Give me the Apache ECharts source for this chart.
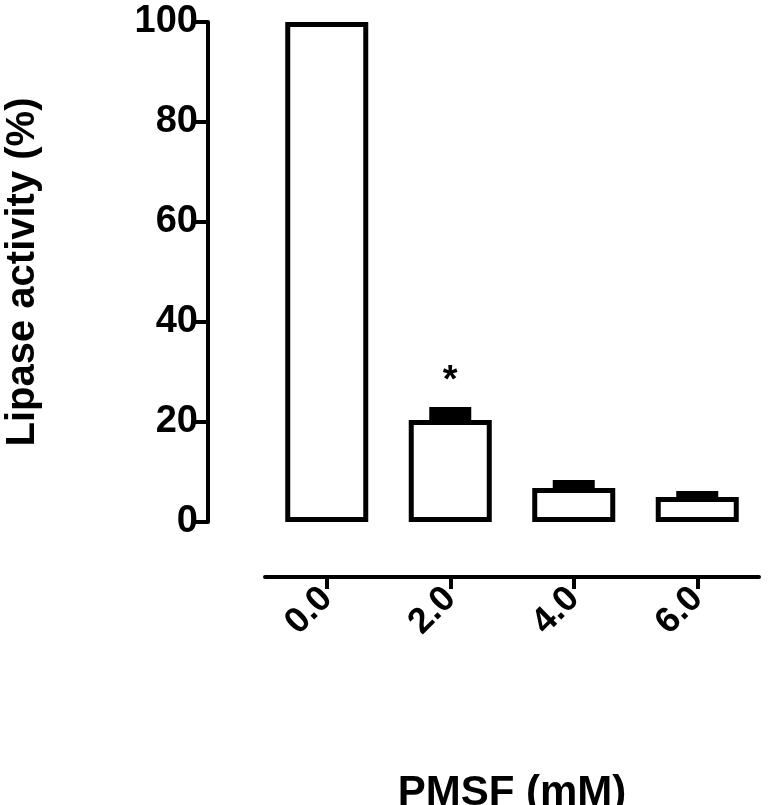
<!DOCTYPE html>
<html><head><meta charset="utf-8">
<script src="https://cdn.jsdelivr.net/npm/echarts@6/dist/echarts.min.js"></script>
<style>html,body{margin:0;padding:0;background:#fff}#c{width:771px;height:805px}</style>
</head><body><div id="c"></div>
<script>
const categories = ['0.0', '2.0', '4.0', '6.0'];
const values = [100, 20.4, 6.8, 5.0];
const errors = [0, 2.6, 1.6, 1.2];
const marks = ['', '*', '', ''];
const yTicks = [0, 20, 40, 60, 80, 100];

const F = 'Liberation Sans, Arial, sans-serif';
const chart = echarts.init(document.getElementById('c'));
chart.setOption({
  animation: false,
  grid: {left: 265, right: 12, top: 22, bottom: 283, containLabel: false, outerBoundsMode: 'none'},
  xAxis: {
    type: 'category', data: categories, offset: 55,
    axisLine: {onZero: false, lineStyle: {color: '#000', width: 4}},
    axisTick: {show: true, alignWithLabel: true, length: 12, lineStyle: {color: '#000', width: 4}},
    axisLabel: {rotate: 45, color: '#000', fontFamily: F, fontWeight: 'bold', fontSize: 36, margin: 16},
    name: 'PMSF (mM)', nameLocation: 'middle', nameGap: 195,
    nameTextStyle: {color: '#000', fontFamily: F, fontWeight: 'bold', fontSize: 42}
  },
  yAxis: {
    type: 'value', min: 0, max: 100, interval: 20, offset: 57,
    axisLine: {show: true, lineStyle: {color: '#000', width: 4}},
    axisTick: {show: true, length: 16, lineStyle: {color: '#000', width: 4}},
    splitLine: {show: false},
    axisLabel: {color: '#000', fontFamily: F, fontWeight: 'bold', fontSize: 38, margin: 10,
      formatter: v => yTicks.includes(v) ? String(v) : ''},
    name: 'Lipase activity (%)', nameLocation: 'middle', nameGap: 165,
    nameTextStyle: {color: '#000', fontFamily: F, fontWeight: 'bold', fontSize: 40}
  },
  series: [
    {type: 'bar', data: values, barWidth: 83,
     itemStyle: {color: '#fff', borderColor: '#000', borderWidth: 5}},
    {type: 'custom', z: 5,
     data: values.map((v, i) => [i, v, errors[i]]),
     renderItem: (params, api) => {
       const i = api.value(0), v = api.value(1), e = api.value(2);
       const base = api.coord([i, v]);
       const top = api.coord([i, v + e]);
       const children = [];
       if (e > 0) {
         children.push({type: 'rect', shape: {x: base[0] - 21, y: top[1], width: 42, height: base[1] - top[1]},
           style: {fill: '#000'}});
       }
       const m = marks[i];
       if (m) children.push({type: 'text', x: base[0], y: top[1] - 6,
         style: {text: m, fill: '#000', font: 'bold 38px ' + F, align: 'center', verticalAlign: 'bottom'}});
       return {type: 'group', children};
     }}
  ]
});
</script></body></html>
